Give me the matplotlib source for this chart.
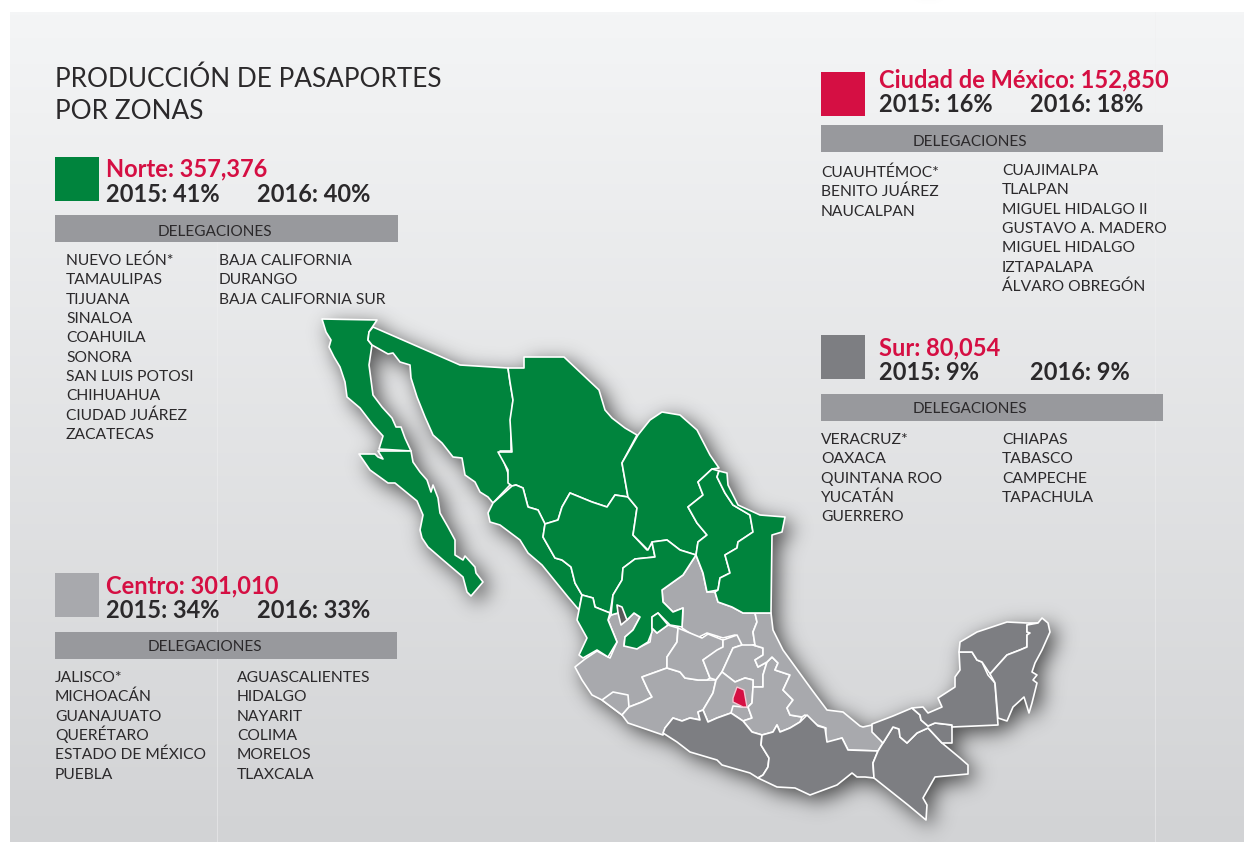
import numpy as np
import matplotlib
matplotlib.use('Agg')
import matplotlib.pyplot as plt
from matplotlib.patches import Polygon, Rectangle

plt.rcParams['font.family'] = ['Lato', 'DejaVu Sans']

title_lines = ["PRODUCCIÓN DE PASAPORTES", "POR ZONAS"]
zone_names = ["Norte", "Ciudad de México", "Sur", "Centro"]
zone_totals = ["357,376", "152,850", "80,054", "301,010"]
pct_2015 = [41, 16, 9, 34]
pct_2016 = [40, 18, 9, 33]
norte_left = ["NUEVO LEÓN*", "TAMAULIPAS", "TIJUANA", "SINALOA", "COAHUILA", "SONORA", "SAN LUIS POTOSI", "CHIHUAHUA", "CIUDAD JUÁREZ", "ZACATECAS"]
norte_right = ["BAJA CALIFORNIA", "DURANGO", "BAJA CALIFORNIA SUR"]
cdmx_left = ["CUAUHTÉMOC*", "BENITO JUÁREZ", "NAUCALPAN"]
cdmx_right = ["CUAJIMALPA", "TLALPAN", "MIGUEL HIDALGO II", "GUSTAVO A. MADERO", "MIGUEL HIDALGO", "IZTAPALAPA", "ÁLVARO OBREGÓN"]
sur_left = ["VERACRUZ*", "OAXACA", "QUINTANA ROO", "YUCATÁN", "GUERRERO"]
sur_right = ["CHIAPAS", "TABASCO", "CAMPECHE", "TAPACHULA"]
centro_left = ["JALISCO*", "MICHOACÁN", "GUANAJUATO", "QUERÉTARO", "ESTADO DE MÉXICO", "PUEBLA"]
centro_right = ["AGUASCALIENTES", "HIDALGO", "NAYARIT", "COLIMA", "MORELOS", "TLAXCALA"]

# state outlines
baja_california = [(322,319),(377,320),(369,332),(368,340),(372,345),(369,365),(373,395),(382,407),(392,418),(396,427),(401,427),(405,438),(411,451),(379,449),(383,436),(373,425),(360,408),(347,397),(345,382),(340,367),(334,357),(329,347),(331,340),(326,332)]
baja_sur = [(359,454),(375,454),(378,457),(383,459),(378,451),(411,451),(413,462),(420,472),(427,480),(431,492),(433,485),(438,498),(440,513),(448,527),(455,540),(455,555),(463,560),(465,556),(475,567),(476,573),(483,582),(471,596),(467,592),(463,577),(443,560),(428,547),(422,538),(420,530),(423,515),(417,501),(395,483),(388,483),(370,470)]
sonora = [(373,327),(460,365),(508,368),(510,382),(513,400),(511,420),(511,451),(500,451),(508,473),(510,485),(493,503),(488,497),(480,492),(475,482),(465,475),(462,458),(453,457),(442,443),(433,435),(425,417),(417,397),(411,378),(410,365),(400,362),(393,353),(388,354),(372,345),(368,340),(369,332)]
chihuahua = [(524,357),(564,357),(599,390),(605,410),(612,418),(625,428),(637,435),(622,463),(628,497),(615,495),(607,507),(592,502),(570,493),(562,507),(558,520),(545,524),(538,510),(528,507),(523,488),(516,485),(512,486),(508,483),(508,470),(498,452),(512,452),(510,420),(513,400),(510,382),(508,368),(524,368)]
sinaloa = [(512,486),(516,485),(523,488),(528,507),(538,510),(545,524),(543,537),(555,558),(562,560),(571,567),(575,583),(582,595),(579,610),(568,597),(542,565),(528,553),(520,540),(500,525),(490,522),(488,513),(493,503)]
durango = [(545,524),(558,520),(562,507),(570,493),(592,502),(607,507),(615,495),(628,497),(637,508),(633,535),(647,550),(652,543),(655,557),(635,559),(623,568),(622,580),(613,595),(610,613),(595,607),(593,598),(582,595),(575,583),(571,567),(562,560),(555,558),(543,537)]
coahuila = [(638,435),(650,420),(662,412),(680,415),(697,430),(710,455),(719,468),(712,469),(698,482),(703,495),(688,507),(697,523),(707,535),(698,542),(696,555),(680,550),(667,540),(652,542),(648,550),(633,535),(637,508),(628,497),(622,463)]
zacatecas = [(652,542),(667,540),(680,550),(696,555),(683,575),(662,590),(663,602),(673,612),(683,608),(682,627),(670,625),(658,613),(652,617),(652,632),(648,642),(640,647),(637,649),(624,646),(625,637),(633,630),(640,617),(634,613),(627,620),(622,607),(617,605),(618,613),(611,615),(613,595),(622,580),(623,568),(635,559),(655,557)]
nayarit = [(582,595),(593,598),(595,607),(610,613),(608,620),(617,642),(608,657),(597,650),(583,658),(579,655),(587,638),(577,620),(579,610)]
aguascalientes = [(652,617),(658,613),(668,625),(657,633),(652,628)]
nuevo_leon = [(712,469),(719,471),(717,477),(725,493),(733,505),(750,515),(753,532),(738,542),(737,548),(725,555),(730,573),(720,578),(718,590),(707,592),(703,573),(696,555),(698,542),(707,535),(697,523),(688,507),(703,495),(698,482)]
tamaulipas = [(719,471),(727,473),(728,485),(738,505),(760,515),(785,517),(782,532),(772,535),(771,613),(755,613),(743,613),(732,607),(718,602),(715,592),(718,590),(720,578),(730,573),(725,555),(737,548),(738,542),(753,532),(750,515),(733,505),(725,493),(717,477)]
san_luis = [(696,555),(703,573),(707,592),(715,592),(718,602),(732,607),(743,613),(755,613),(757,622),(753,632),(755,645),(743,647),(735,635),(723,638),(707,633),(697,638),(682,628),(683,608),(673,612),(663,602),(662,590),(683,575)]
jalisco = [(575,667),(585,659),(597,651),(610,658),(617,642),(608,620),(611,615),(618,613),(621,625),(627,620),(634,613),(640,617),(633,630),(625,637),(624,646),(640,647),(650,642),(652,628),(657,633),(668,625),(678,628),(677,642),(667,657),(667,668),(642,677),(648,690),(652,697),(642,702),(629,707),(622,715),(602,700),(592,695),(582,680)]
colima = [(602,700),(613,692),(628,695),(629,707),(622,715)]
michoacan = [(622,715),(629,707),(642,702),(652,697),(648,690),(642,677),(667,668),(680,672),(685,678),(698,680),(707,680),(716,680),(713,693),(703,710),(698,712),(700,720),(690,718),(682,721),(673,718),(665,728),(663,735),(628,723)]
guanajuato = [(678,628),(702,638),(708,634),(723,640),(723,647),(703,660),(710,678),(707,680),(698,680),(685,678),(680,672),(667,668),(667,657),(677,642)]
queretaro = [(723,640),(737,635),(742,645),(733,648),(722,672),(716,680),(710,678),(703,660),(717,650),(723,647)]
hidalgo = [(742,645),(753,645),(763,648),(763,655),(755,660),(758,667),(767,662),(763,675),(763,687),(753,687),(753,680),(745,678),(735,682),(722,672),(733,648)]
edomex = [(722,672),(735,682),(745,678),(753,680),(753,687),(752,703),(748,707),(752,718),(743,721),(737,717),(731,713),(717,718),(708,722),(703,710),(713,693),(716,680)]
morelos = [(733,706),(743,707),(748,707),(752,718),(743,721),(737,717),(731,713)]
tlaxcala = [(754,688),(770,687),(778,696),(765,702),(754,692)]
puebla = [(763,675),(767,662),(772,657),(778,663),(775,670),(790,675),(783,690),(793,700),(787,708),(790,715),(802,717),(800,722),(790,728),(780,732),(777,725),(773,732),(762,735),(752,732),(743,721),(752,718),(748,707),(752,703),(753,687),(763,687)]
veracruz = [(755,613),(771,613),(773,630),(783,650),(812,690),(827,710),(843,712),(860,726),(863,727),(872,725),(883,743),(878,751),(848,750),(842,738),(828,743),(825,740),(826,728),(817,725),(805,715),(802,717),(790,715),(787,708),(793,700),(783,690),(790,675),(775,670),(778,663),(772,657),(767,662),(758,667),(755,660),(763,655),(763,648),(753,645),(755,645),(753,632),(757,622)]
cdmx = [(737,687),(744,690),(747,707),(743,707),(733,702),(733,698)]
guerrero = [(663,733),(665,728),(673,718),(682,721),(690,718),(700,720),(698,712),(703,710),(708,722),(717,718),(731,713),(737,717),(743,721),(752,732),(762,735),(761,745),(769,758),(768,767),(763,775),(758,778),(750,773),(722,765),(717,760),(690,752),(677,742)]
oaxaca = [(762,735),(773,732),(777,725),(780,732),(790,728),(800,722),(807,715),(818,726),(825,728),(827,742),(842,738),(848,750),(878,751),(873,763),(874,778),(865,777),(857,777),(852,773),(837,785),(810,795),(795,788),(777,787),(758,778),(763,775),(768,767),(769,758),(761,745)]
chiapas = [(878,751),(883,743),(893,727),(899,729),(900,737),(907,743),(917,733),(928,728),(942,743),(960,758),(968,765),(968,774),(935,777),(923,798),(927,805),(926,820),(908,805),(874,778),(873,763)]
tabasco = [(872,724),(893,716),(912,708),(920,715),(921,720),(928,726),(935,723),(952,725),(952,743),(942,743),(928,728),(917,733),(907,743),(900,737),(899,729),(893,727),(883,743),(872,732)]
campeche = [(912,708),(923,707),(928,713),(942,707),(938,698),(955,687),(955,677),(960,670),(959,652),(972,652),(977,660),(982,662),(988,675),(995,683),(998,725),(952,727),(952,725),(935,723),(928,726),(921,720),(920,715)]
yucatan = [(959,652),(960,642),(977,632),(1007,622),(1027,623),(1038,623),(1027,625),(1027,632),(1030,633),(1027,635),(1027,647),(1020,650),(1007,655),(998,665),(990,674),(982,662),(977,660),(972,652)]
quintana_roo = [(1038,623),(1042,618),(1048,623),(1050,632),(1042,650),(1035,663),(1032,672),(1037,675),(1033,680),(1037,683),(1032,703),(1029,713),(1024,697),(1013,707),(1007,721),(998,718),(995,683),(990,674),(998,665),(1007,655),(1020,650),(1027,647),(1027,635),(1030,633),(1027,632),(1027,625)]

green_states = [baja_california, baja_sur, sonora, chihuahua, sinaloa, durango, coahuila, zacatecas, nayarit, aguascalientes, nuevo_leon, tamaulipas]
centro_states = [san_luis, jalisco, colima, michoacan, guanajuato, queretaro, hidalgo, edomex, morelos, tlaxcala, puebla, veracruz]
sur_states = [guerrero, oaxaca, chiapas, tabasco, campeche, yucatan, quintana_roo]
red_states = [cdmx]

GREEN = '#00843d'
MID = '#a8a9ad'
DARK = '#7d7e82'
RED = '#d50f43'
BAR = '#98999d'
INK = '#2b292b'
W, H = 1244, 842


def shadow_mask():
    # draw the map silhouette on a scratch figure and blur it
    f = plt.figure(figsize=(W / 100, H / 100), dpi=100)
    a = f.add_axes([0, 0, 1, 1])
    a.set_xlim(0, W)
    a.set_ylim(H, 0)
    a.axis('off')
    for st in green_states + centro_states + sur_states:
        a.add_patch(Polygon(st, closed=True, facecolor='black', edgecolor='black', lw=1))
    f.canvas.draw()
    rgba = np.asarray(f.canvas.buffer_rgba())
    plt.close(f)
    m = 1 - rgba[:, :, 0] / 255.0
    sigma = 10.0
    fy = np.fft.fftfreq(m.shape[0])[:, None]
    fx = np.fft.rfftfreq(m.shape[1])[None, :]
    kernel = np.exp(-2 * (np.pi * sigma) ** 2 * (fx ** 2 + fy ** 2))
    m = np.fft.irfft2(np.fft.rfft2(m) * kernel, s=m.shape)
    return np.roll(np.roll(m, 6, axis=0), 6, axis=1).clip(0, 1)


fig = plt.figure(figsize=(W / 100, H / 100), dpi=100, facecolor='white')
ax = fig.add_axes([0, 0, 1, 1])

# panel background
grad = np.linspace(0, 1, 256).reshape(-1, 1)
bg_cmap = matplotlib.colors.LinearSegmentedColormap.from_list('bg', ['#f4f5f6', '#d2d3d5'])
ax.imshow(grad, extent=(10, W, H, 12), cmap=bg_cmap, aspect='auto', zorder=0)
ax.plot([217, 217], [242, H], color='#f0f0f1', lw=0.6, alpha=0.6, zorder=1)
ax.plot([1155, 1155], [12, H], color='#f0f0f1', lw=0.6, alpha=0.6, zorder=1)

# soft shadow under the map
mask = shadow_mask()
shadow = np.zeros((H, W, 4))
shadow[:, :, :3] = 0.12
shadow[:, :, 3] = mask * 0.75
ax.imshow(shadow, extent=(0, W, H, 0), aspect='auto', zorder=2)

ax.set_xlim(0, W)
ax.set_ylim(H, 0)
ax.axis('off')

for group, col in [(centro_states, MID), (sur_states, DARK), (green_states, GREEN)]:
    for st in group:
        ax.add_patch(Polygon(st, closed=True, facecolor=col, edgecolor='white', lw=1.2, joinstyle='round', zorder=3))
for st in red_states:
    ax.add_patch(Polygon(st, closed=True, facecolor=RED, edgecolor='#f3c6d2', lw=1.0, zorder=4))

# title
ax.text(55, 87, title_lines[0], fontsize=18.8, color=INK, zorder=5)
ax.text(55, 119, title_lines[1], fontsize=18.8, color=INK, zorder=5)


def panel(i, swatch, x0, y0, tx, ty, bar_y, bar_w, head_x, head_dy, lx, rx, left, right, ly0, ry0):
    ax.add_patch(Rectangle((x0, y0), 44, 44, facecolor=swatch, edgecolor='none', zorder=5))
    ax.text(tx, ty, f"{zone_names[i]}: {zone_totals[i]}", fontsize=17, fontweight='bold', color=RED, zorder=5)
    ax.text(tx, ty + 25.5, f"2015: {pct_2015[i]}%", fontsize=17, fontweight='bold', color=INK, zorder=5)
    ax.text(tx + 151, ty + 25.5, f"2016: {pct_2016[i]}%", fontsize=17, fontweight='bold', color=INK, zorder=5)
    ax.add_patch(Rectangle((x0, bar_y), bar_w, 27, facecolor=BAR, edgecolor='none', zorder=5))
    ax.text(head_x, bar_y + head_dy, "DELEGACIONES", fontsize=11.1, ha='center', color=INK, zorder=6)
    for j, name in enumerate(left):
        ax.text(lx, ly0 + j * 19.35, name, fontsize=11.25, color=INK, zorder=5)
    for j, name in enumerate(right):
        ax.text(rx, ry0 + j * 19.35, name, fontsize=11.25, color=INK, zorder=5)


panel(0, GREEN, 55, 157, 106, 176, 215, 343, 215, 21, 66, 219, norte_left, norte_right, 265, 265)
panel(1, RED, 821, 72, 879, 87, 125, 342, 970, 21, 821, 1002, cdmx_left, cdmx_right, 177, 175)
panel(2, DARK, 821, 335, 879, 355, 394, 342, 970, 19, 821, 1002, sur_left, sur_right, 444, 444)
panel(3, MID, 55, 573, 106, 593, 632, 342, 205, 19, 55, 237, centro_left, centro_right, 682, 682)

fig.savefig('out.png', dpi=100)
